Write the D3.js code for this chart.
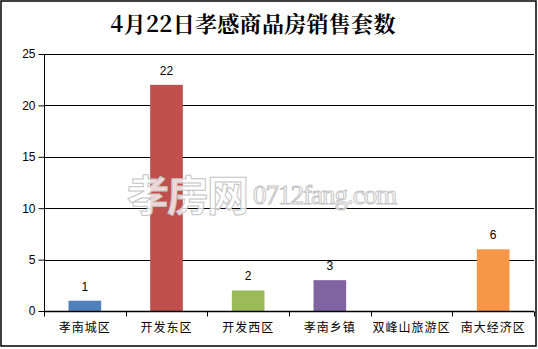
<!DOCTYPE html>
<html lang="zh">
  <head>
    <meta charset="utf-8">
    <title>孝感商品房销售套数</title>
    <script src="https://cdn.jsdelivr.net/npm/d3@7/dist/d3.min.js"></script>
    <style type="text/css">
      body { margin: 0; background: #fff; }
      svg { display: block; }
      .tick text { font-family: "Liberation Sans", "Noto Sans CJK SC", sans-serif; font-size: 12px; fill: #000; }
      .grid line { stroke: #000; stroke-width: 1; }
    </style>
  </head>
  <body>
    <svg width="538" height="349"></svg>
    <script type="text/javascript">
      var title = "4月22日孝感商品房销售套数";
      var districts = ["孝南城区", "开发东区", "开发西区", "孝南乡镇", "双峰山旅游区", "南大经济区"];
      var sales = [1, 22, 2, 3, 0, 6];
      var barColors = ["#4f81bd", "#c0504d", "#9bbb59", "#8064a2", "#4bacc6", "#f79646"];
      var yTicks = [0, 5, 10, 15, 20, 25];

      var svg = d3.select("svg"),
          width = +svg.attr("width"),
          height = +svg.attr("height");

      var margin = {top: 54, right: 4, bottom: 38, left: 44};

      var rows = districts.map(function(name, i) {
        return {name: name, value: sales[i], color: barColors[i]};
      });

      // outer frame
      svg.append("rect")
        .attr("x", 1).attr("y", 1)
        .attr("width", 535).attr("height", 345)
        .attr("fill", "#fff")
        .attr("stroke", "#000")
        .attr("stroke-width", 1.5);

      svg.append("text")
        .attr("x", 253)
        .attr("y", 32)
        .attr("text-anchor", "middle")
        .style("font-family", "'Noto Serif CJK SC', 'Noto Sans CJK SC', serif")
        .style("font-weight", "bold")
        .style("font-size", "22px")
        .style("letter-spacing", "0.3px")
        .text(title);

      var x = d3.scaleBand()
        .domain(districts)
        .range([margin.left, width - margin.right])
        .paddingInner(0.6)
        .paddingOuter(0.3);

      var xBounds = d3.scaleLinear()
        .domain([0, districts.length])
        .range([margin.left, width - margin.right]);

      var y = d3.scaleLinear()
        .domain([0, 25])
        .range([height - margin.bottom, margin.top]);

      // gridlines
      svg.append("g")
        .attr("class", "grid")
        .selectAll("line")
        .data(yTicks.slice(1))
        .enter().append("line")
          .attr("x1", margin.left)
          .attr("x2", width - margin.right)
          .attr("y1", function(d) { return Math.round(y(d)) + 0.5; })
          .attr("y2", function(d) { return Math.round(y(d)) + 0.5; });

      // bars
      svg.append("g")
        .selectAll("rect")
        .data(rows)
        .enter().append("rect")
          .attr("x", function(d) { return x(d.name); })
          .attr("y", function(d) { return y(d.value); })
          .attr("width", x.bandwidth())
          .attr("height", function(d) { return y(0) - y(d.value); })
          .attr("fill", function(d) { return d.color; });

      // value labels (no label for zero)
      svg.append("g")
        .selectAll("text")
        .data(rows.filter(function(d) { return d.value > 0; }))
        .enter().append("text")
          .attr("x", function(d) { return x(d.name) + x.bandwidth() / 2; })
          .attr("y", function(d) { return y(d.value) - 10; })
          .attr("text-anchor", "middle")
          .style("font-family", "'Liberation Sans', sans-serif")
          .style("font-size", "12px")
          .text(function(d) { return d.value; });

      // watermark
      var wm = svg.append("g")
        .attr("fill", "#fff")
        .attr("fill-opacity", 0.8)
        .attr("stroke", "#c4c4c4")
        .attr("stroke-width", 1);
      wm.append("text")
        .attr("x", 127)
        .attr("y", 211)
        .style("font-family", "'Noto Sans CJK SC', sans-serif")
        .style("font-weight", "bold")
        .style("font-size", "42px")
        .style("letter-spacing", "-2px")
        .text("孝房网");
      wm.append("text")
        .attr("x", 253)
        .attr("y", 204)
        .style("font-family", "'Liberation Serif', serif")
        .style("font-size", "27px")
        .style("letter-spacing", "-1px")
        .text("0712fang.com");

      // y axis
      svg.append("g")
        .attr("transform", "translate(" + (margin.left + 0.5) + ",0)")
        .call(d3.axisLeft(y).tickValues(yTicks).tickSize(6).tickPadding(3))
        .call(function(g) { g.select(".domain").attr("stroke", "#000").attr("d", "M0," + y(0) + "V" + y(25)); })
        .call(function(g) { g.selectAll(".tick line").attr("stroke", "#000"); });

      // x axis
      var xg = svg.append("g")
        .attr("transform", "translate(0," + (Math.round(y(0)) + 0.5) + ")");
      xg.append("line")
        .attr("x1", margin.left).attr("x2", width - margin.right)
        .attr("stroke", "#000").attr("stroke-width", 1.5);
      xg.selectAll(".bound")
        .data(d3.range(districts.length + 1))
        .enter().append("line")
          .attr("class", "bound")
          .attr("x1", function(d) { return Math.round(xBounds(d)) + 0.5; })
          .attr("x2", function(d) { return Math.round(xBounds(d)) + 0.5; })
          .attr("y1", 0).attr("y2", 5)
          .attr("stroke", "#000");
      xg.selectAll(".lbl")
        .data(districts)
        .enter().append("text")
          .attr("class", "lbl")
          .attr("x", function(d) { return x(d) + x.bandwidth() / 2; })
          .attr("y", 20)
          .attr("text-anchor", "middle")
          .style("font-family", "'Noto Sans CJK SC', sans-serif")
          .style("font-size", "12px")
          .style("letter-spacing", "1px")
          .text(function(d) { return d; });
    </script>
  </body>
</html>
